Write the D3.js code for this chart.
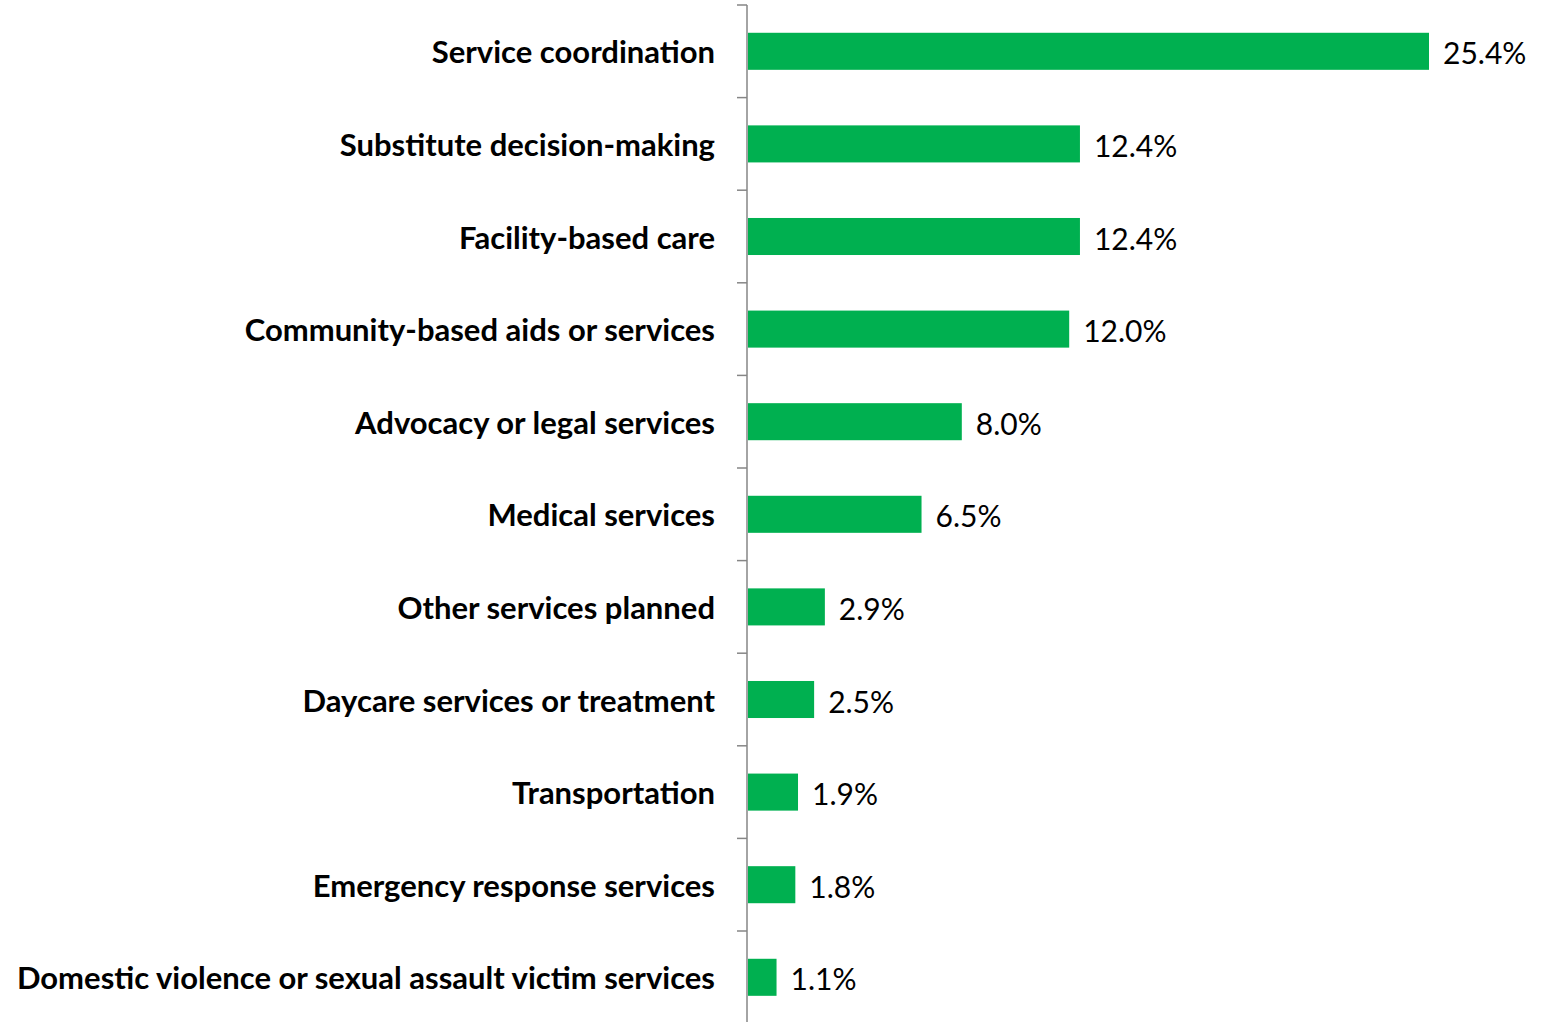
<!DOCTYPE html>
<html>
<head>
<meta charset="utf-8">
<script src="https://cdn.jsdelivr.net/npm/d3@7"></script>
<style>
  body { margin: 0; background: #fff; }
  text { font-family: Lato, "Open Sans", sans-serif; }
</style>
</head>
<body>
<script>
  // chart data
  const categories = [
    'Service coordination',
    'Substitute decision-making',
    'Facility-based care',
    'Community-based aids or services',
    'Advocacy or legal services',
    'Medical services',
    'Other services planned',
    'Daycare services or treatment',
    'Transportation',
    'Emergency response services',
    'Domestic violence or sexual assault victim services'
  ];
  const values = [25.4, 12.4, 12.4, 12.0, 8.0, 6.5, 2.9, 2.5, 1.9, 1.8, 1.1];
  const valueLabels = ['25.4%', '12.4%', '12.4%', '12.0%', '8.0%', '6.5%', '2.9%', '2.5%', '1.9%', '1.8%', '1.1%'];

  const width = 1547, height = 1022;
  const axisX = 747;

  const svg = d3.select('body')
    .append('svg')
    .attr('width', width)
    .attr('height', height);

  const xScale = d3.scaleLinear()
    .domain([0, 25.4])
    .range([axisX, 1429]);

  const yScale = d3.scaleBand()
    .domain(categories)
    .range([5, 5 + 92.6 * categories.length])
    .paddingInner(0.6)
    .paddingOuter(0.3);

  // bars
  svg.selectAll('.bar')
    .data(categories)
    .enter()
    .append('rect')
      .attr('class', 'bar')
      .attr('x', xScale(0) + 1)
      .attr('y', d => yScale(d))
      .attr('width', (d, i) => xScale(values[i]) - xScale(0) - 1)
      .attr('height', yScale.bandwidth())
      .attr('fill', '#00b050');

  // value labels
  svg.selectAll('.val')
    .data(categories)
    .enter()
    .append('text')
      .attr('class', 'val')
      .attr('x', (d, i) => xScale(values[i]) + 14)
      .attr('y', d => yScale(d) + yScale.bandwidth() / 2 + 1)
      .attr('dominant-baseline', 'central')
      .style('font-size', '30px')
      .style('fill', '#000')
      .text((d, i) => valueLabels[i]);

  // category axis
  const tickPos = d3.range(categories.length + 1).map(i => 5 + 92.6 * i);
  const axis = svg.append('g');
  axis.append('line')
    .attr('x1', axisX).attr('x2', axisX)
    .attr('y1', 5).attr('y2', height)
    .attr('stroke', '#868686')
    .attr('stroke-width', 1.5);
  axis.selectAll('.tick')
    .data(tickPos)
    .enter()
    .append('line')
      .attr('x1', axisX - 10).attr('x2', axisX)
      .attr('y1', d => d).attr('y2', d => d)
      .attr('stroke', '#868686')
      .attr('stroke-width', 1.5);

  // category labels
  svg.selectAll('.cat')
    .data(categories)
    .enter()
    .append('text')
      .attr('class', 'cat')
      .attr('x', 715)
      .attr('y', d => yScale(d) + yScale.bandwidth() / 2)
      .attr('dominant-baseline', 'central')
      .attr('text-anchor', 'end')
      .style('font-size', '31px')
      .style('font-weight', 'bold')
      .style('fill', '#000')
      .text(d => d);
</script>
</body>
</html>
